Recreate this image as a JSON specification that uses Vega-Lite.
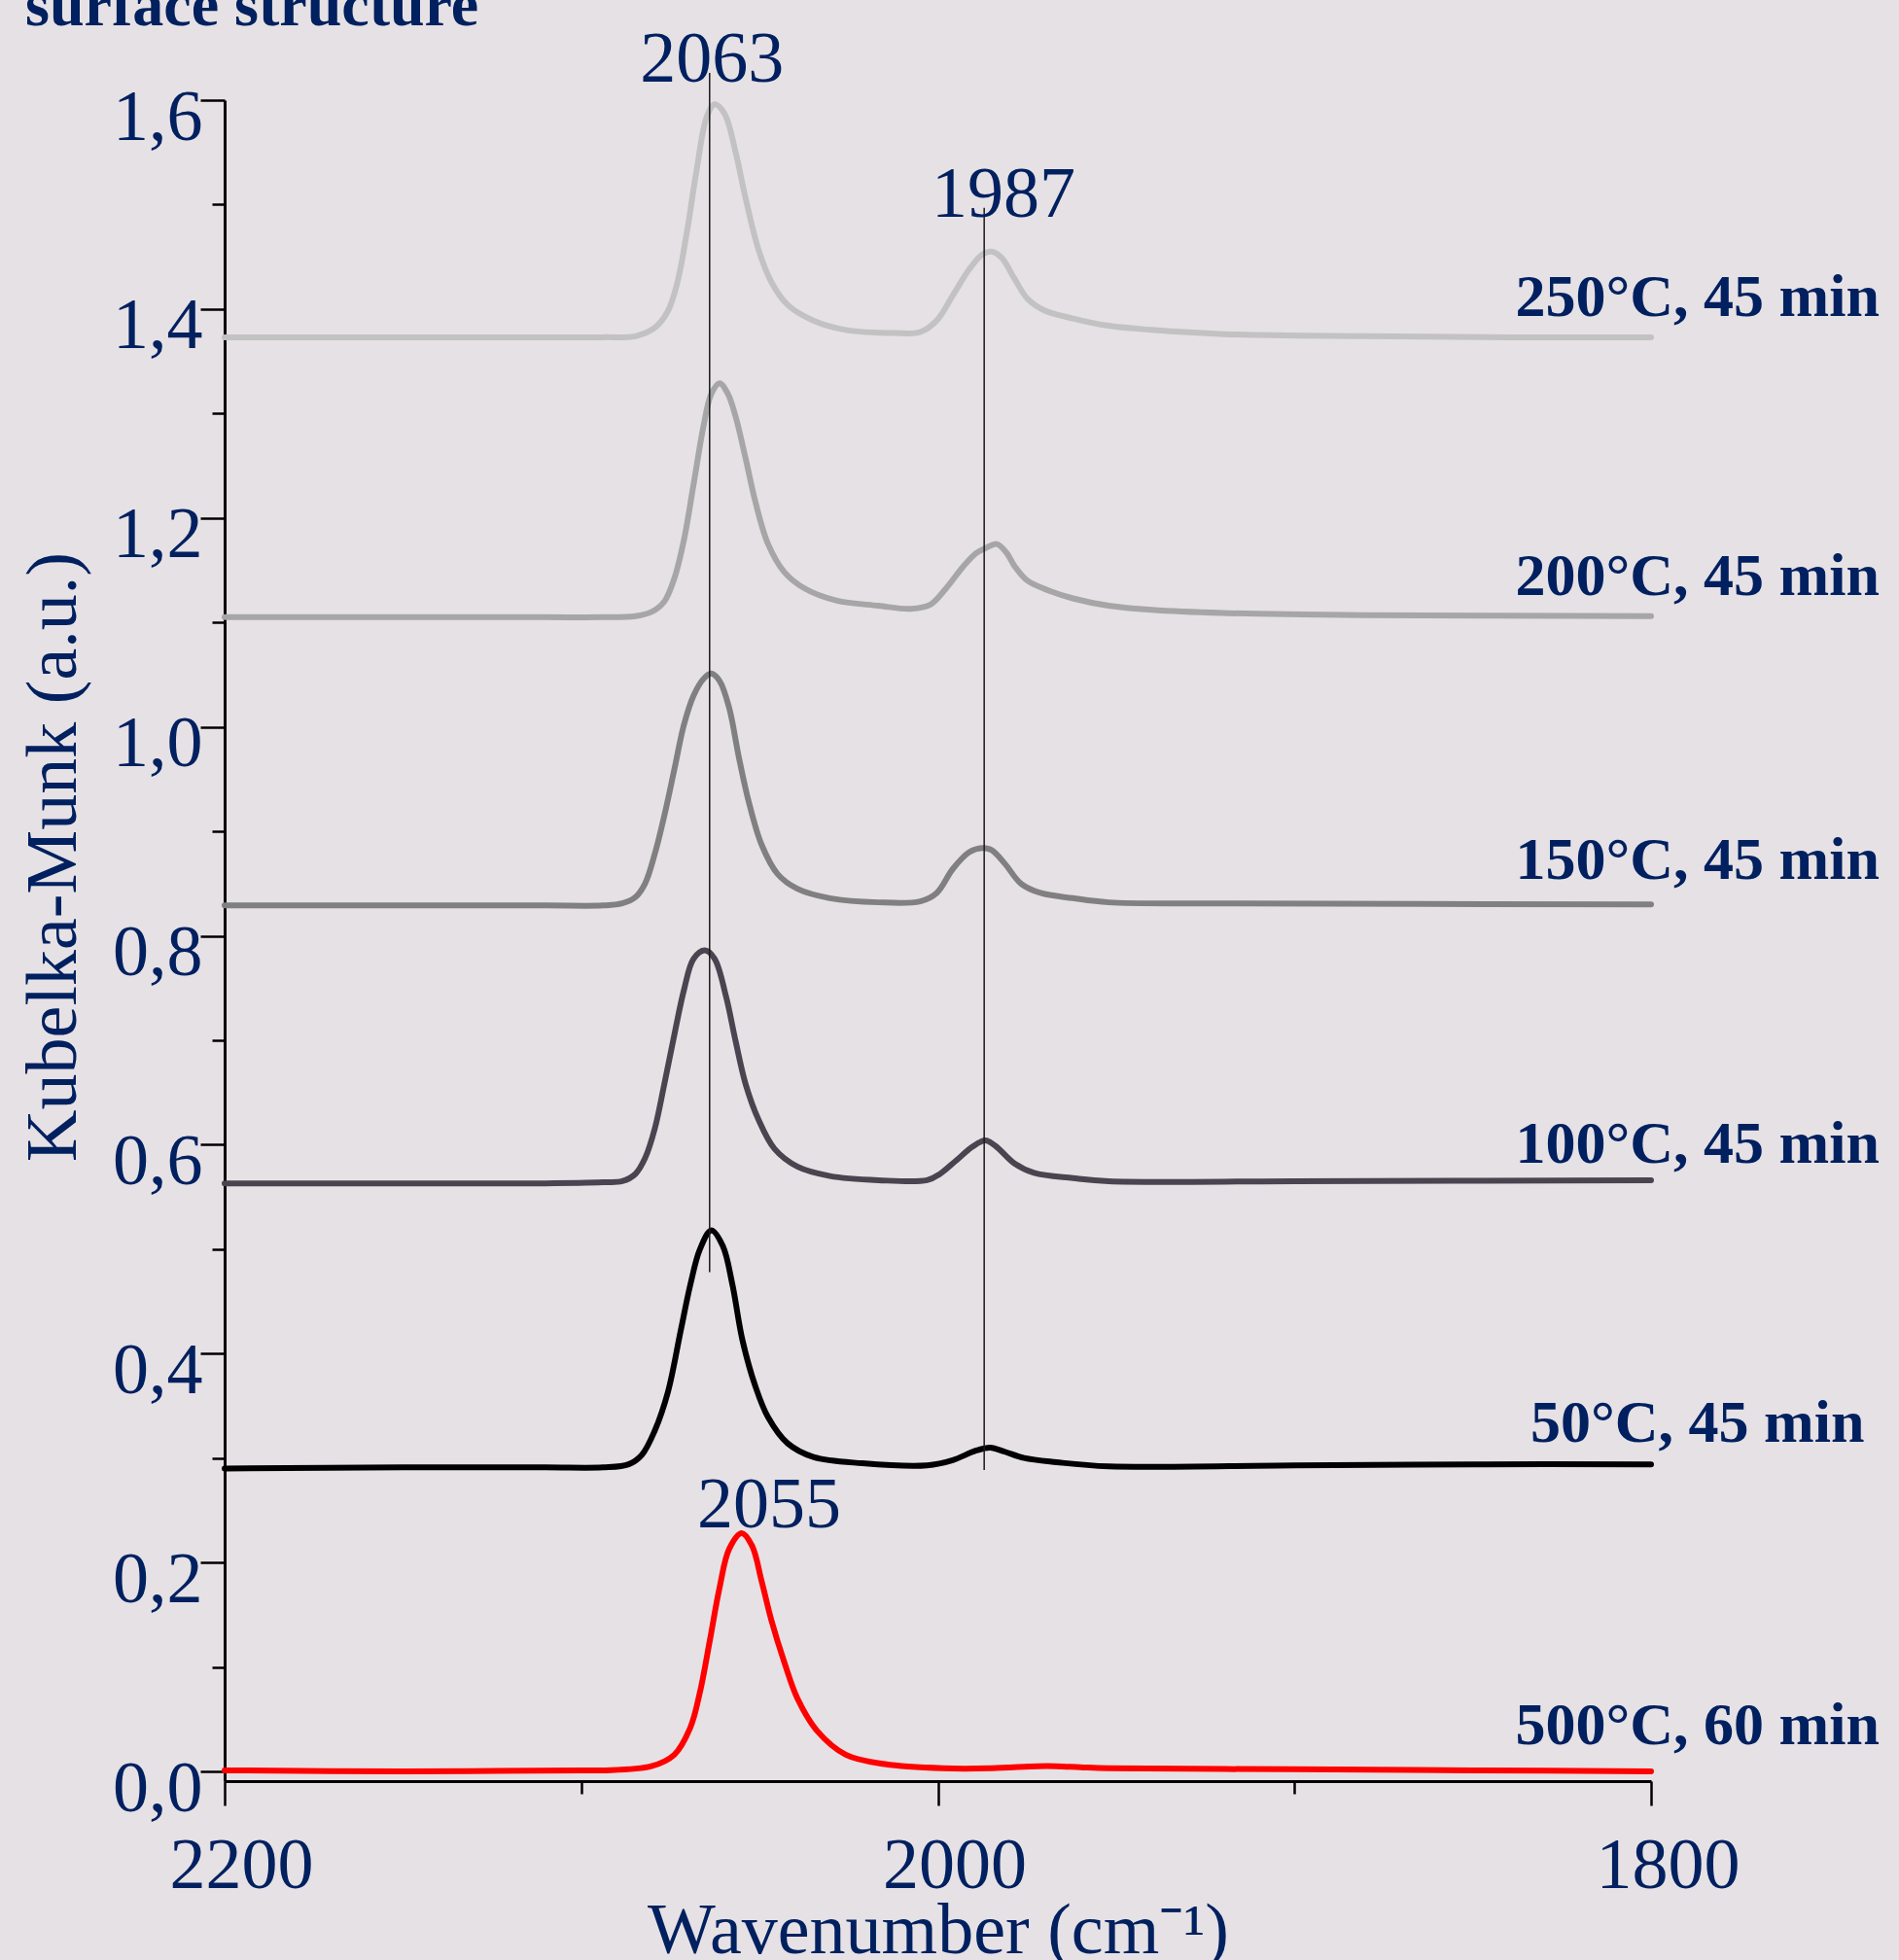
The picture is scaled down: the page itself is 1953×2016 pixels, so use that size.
{
  "$schema": "https://vega.github.io/schema/vega-lite/v6.json",
  "width": 1467,
  "height": 1729,
  "autosize": {"type": "none"},
  "padding": {"left": 231, "top": 103, "right": 255, "bottom": 184},
  "background": "#e6e1e4",
  "config": {"view": {"stroke": null}, "font": "Liberation Serif"},
  "title": {
    "text": "surface structure",
    "anchor": "start",
    "frame": "group",
    "font": "Liberation Serif",
    "fontSize": 64,
    "fontWeight": "bold",
    "color": "#002060",
    "baseline": "alphabetic",
    "dx": -205,
    "offset": 0,
    "dy": 65
  },
  "datasets": {
    "spectra": [
      {"s": "250°C, 45 min", "wn": 2200, "km": 1.373},
      {"s": "250°C, 45 min", "wn": 2150, "km": 1.373},
      {"s": "250°C, 45 min", "wn": 2110, "km": 1.373},
      {"s": "250°C, 45 min", "wn": 2093.9, "km": 1.373},
      {"s": "250°C, 45 min", "wn": 2084.8, "km": 1.374},
      {"s": "250°C, 45 min", "wn": 2079.4, "km": 1.382},
      {"s": "250°C, 45 min", "wn": 2075.7, "km": 1.398},
      {"s": "250°C, 45 min", "wn": 2073.0, "km": 1.426},
      {"s": "250°C, 45 min", "wn": 2070.3, "km": 1.475},
      {"s": "250°C, 45 min", "wn": 2067.6, "km": 1.534},
      {"s": "250°C, 45 min", "wn": 2064.8, "km": 1.584},
      {"s": "250°C, 45 min", "wn": 2062.6, "km": 1.596},
      {"s": "250°C, 45 min", "wn": 2059.8, "km": 1.587},
      {"s": "250°C, 45 min", "wn": 2056.7, "km": 1.550},
      {"s": "250°C, 45 min", "wn": 2053.9, "km": 1.506},
      {"s": "250°C, 45 min", "wn": 2050.3, "km": 1.457},
      {"s": "250°C, 45 min", "wn": 2046.7, "km": 1.426},
      {"s": "250°C, 45 min", "wn": 2042.1, "km": 1.404},
      {"s": "250°C, 45 min", "wn": 2034.9, "km": 1.389},
      {"s": "250°C, 45 min", "wn": 2025.8, "km": 1.380},
      {"s": "250°C, 45 min", "wn": 2012.1, "km": 1.377},
      {"s": "250°C, 45 min", "wn": 2004.9, "km": 1.378},
      {"s": "250°C, 45 min", "wn": 2000.3, "km": 1.389},
      {"s": "250°C, 45 min", "wn": 1995.8, "km": 1.413},
      {"s": "250°C, 45 min", "wn": 1991.2, "km": 1.438},
      {"s": "250°C, 45 min", "wn": 1987.6, "km": 1.452},
      {"s": "250°C, 45 min", "wn": 1984.9, "km": 1.455},
      {"s": "250°C, 45 min", "wn": 1982.1, "km": 1.449},
      {"s": "250°C, 45 min", "wn": 1978.5, "km": 1.429},
      {"s": "250°C, 45 min", "wn": 1974.9, "km": 1.410},
      {"s": "250°C, 45 min", "wn": 1970.3, "km": 1.399},
      {"s": "250°C, 45 min", "wn": 1962.1, "km": 1.391},
      {"s": "250°C, 45 min", "wn": 1952.1, "km": 1.384},
      {"s": "250°C, 45 min", "wn": 1940, "km": 1.380},
      {"s": "250°C, 45 min", "wn": 1920, "km": 1.376},
      {"s": "250°C, 45 min", "wn": 1880, "km": 1.374},
      {"s": "250°C, 45 min", "wn": 1840, "km": 1.373},
      {"s": "250°C, 45 min", "wn": 1800, "km": 1.373},

      {"s": "200°C, 45 min", "wn": 2200, "km": 1.105},
      {"s": "200°C, 45 min", "wn": 2150, "km": 1.105},
      {"s": "200°C, 45 min", "wn": 2110, "km": 1.105},
      {"s": "200°C, 45 min", "wn": 2093.9, "km": 1.105},
      {"s": "200°C, 45 min", "wn": 2084.8, "km": 1.106},
      {"s": "200°C, 45 min", "wn": 2080.3, "km": 1.110},
      {"s": "200°C, 45 min", "wn": 2076.7, "km": 1.120},
      {"s": "200°C, 45 min", "wn": 2073.9, "km": 1.142},
      {"s": "200°C, 45 min", "wn": 2071.2, "km": 1.179},
      {"s": "200°C, 45 min", "wn": 2068.5, "km": 1.232},
      {"s": "200°C, 45 min", "wn": 2065.7, "km": 1.288},
      {"s": "200°C, 45 min", "wn": 2063.5, "km": 1.319},
      {"s": "200°C, 45 min", "wn": 2061.2, "km": 1.329},
      {"s": "200°C, 45 min", "wn": 2058.9, "km": 1.319},
      {"s": "200°C, 45 min", "wn": 2056.7, "km": 1.297},
      {"s": "200°C, 45 min", "wn": 2053.9, "km": 1.257},
      {"s": "200°C, 45 min", "wn": 2051.2, "km": 1.216},
      {"s": "200°C, 45 min", "wn": 2047.6, "km": 1.175},
      {"s": "200°C, 45 min", "wn": 2043.0, "km": 1.148},
      {"s": "200°C, 45 min", "wn": 2037.6, "km": 1.133},
      {"s": "200°C, 45 min", "wn": 2028.5, "km": 1.121},
      {"s": "200°C, 45 min", "wn": 2016.7, "km": 1.116},
      {"s": "200°C, 45 min", "wn": 2007.6, "km": 1.113},
      {"s": "200°C, 45 min", "wn": 2002.1, "km": 1.117},
      {"s": "200°C, 45 min", "wn": 1997.6, "km": 1.133},
      {"s": "200°C, 45 min", "wn": 1993.0, "km": 1.153},
      {"s": "200°C, 45 min", "wn": 1989.4, "km": 1.166},
      {"s": "200°C, 45 min", "wn": 1986.7, "km": 1.171},
      {"s": "200°C, 45 min", "wn": 1983.5, "km": 1.175},
      {"s": "200°C, 45 min", "wn": 1980.8, "km": 1.167},
      {"s": "200°C, 45 min", "wn": 1978.5, "km": 1.154},
      {"s": "200°C, 45 min", "wn": 1974.9, "km": 1.140},
      {"s": "200°C, 45 min", "wn": 1968.5, "km": 1.130},
      {"s": "200°C, 45 min", "wn": 1962.1, "km": 1.123},
      {"s": "200°C, 45 min", "wn": 1952.1, "km": 1.116},
      {"s": "200°C, 45 min", "wn": 1940, "km": 1.112},
      {"s": "200°C, 45 min", "wn": 1920, "km": 1.109},
      {"s": "200°C, 45 min", "wn": 1880, "km": 1.107},
      {"s": "200°C, 45 min", "wn": 1800, "km": 1.106},

      {"s": "150°C, 45 min", "wn": 2200, "km": 0.829},
      {"s": "150°C, 45 min", "wn": 2150, "km": 0.829},
      {"s": "150°C, 45 min", "wn": 2110, "km": 0.829},
      {"s": "150°C, 45 min", "wn": 2093.9, "km": 0.829},
      {"s": "150°C, 45 min", "wn": 2088.5, "km": 0.831},
      {"s": "150°C, 45 min", "wn": 2084.8, "km": 0.837},
      {"s": "150°C, 45 min", "wn": 2082.1, "km": 0.850},
      {"s": "150°C, 45 min", "wn": 2079.4, "km": 0.878},
      {"s": "150°C, 45 min", "wn": 2076.7, "km": 0.915},
      {"s": "150°C, 45 min", "wn": 2073.9, "km": 0.959},
      {"s": "150°C, 45 min", "wn": 2071.2, "km": 1.002},
      {"s": "150°C, 45 min", "wn": 2068.5, "km": 1.030},
      {"s": "150°C, 45 min", "wn": 2065.7, "km": 1.046},
      {"s": "150°C, 45 min", "wn": 2063.5, "km": 1.051},
      {"s": "150°C, 45 min", "wn": 2061.2, "km": 1.044},
      {"s": "150°C, 45 min", "wn": 2058.5, "km": 1.018},
      {"s": "150°C, 45 min", "wn": 2055.8, "km": 0.971},
      {"s": "150°C, 45 min", "wn": 2053.0, "km": 0.928},
      {"s": "150°C, 45 min", "wn": 2049.4, "km": 0.887},
      {"s": "150°C, 45 min", "wn": 2044.9, "km": 0.859},
      {"s": "150°C, 45 min", "wn": 2039.4, "km": 0.845},
      {"s": "150°C, 45 min", "wn": 2030.3, "km": 0.836},
      {"s": "150°C, 45 min", "wn": 2016.7, "km": 0.832},
      {"s": "150°C, 45 min", "wn": 2004.9, "km": 0.833},
      {"s": "150°C, 45 min", "wn": 2000.3, "km": 0.841},
      {"s": "150°C, 45 min", "wn": 1995.8, "km": 0.864},
      {"s": "150°C, 45 min", "wn": 1991.2, "km": 0.880},
      {"s": "150°C, 45 min", "wn": 1987.6, "km": 0.884},
      {"s": "150°C, 45 min", "wn": 1984.9, "km": 0.882},
      {"s": "150°C, 45 min", "wn": 1981.2, "km": 0.869},
      {"s": "150°C, 45 min", "wn": 1976.7, "km": 0.850},
      {"s": "150°C, 45 min", "wn": 1971.2, "km": 0.841},
      {"s": "150°C, 45 min", "wn": 1962.1, "km": 0.836},
      {"s": "150°C, 45 min", "wn": 1952.1, "km": 0.832},
      {"s": "150°C, 45 min", "wn": 1920, "km": 0.831},
      {"s": "150°C, 45 min", "wn": 1800, "km": 0.830},

      {"s": "100°C, 45 min", "wn": 2200, "km": 0.563},
      {"s": "100°C, 45 min", "wn": 2150, "km": 0.563},
      {"s": "100°C, 45 min", "wn": 2110, "km": 0.563},
      {"s": "100°C, 45 min", "wn": 2093.9, "km": 0.564},
      {"s": "100°C, 45 min", "wn": 2088.5, "km": 0.565},
      {"s": "100°C, 45 min", "wn": 2084.8, "km": 0.572},
      {"s": "100°C, 45 min", "wn": 2082.1, "km": 0.587},
      {"s": "100°C, 45 min", "wn": 2079.4, "km": 0.615},
      {"s": "100°C, 45 min", "wn": 2076.7, "km": 0.658},
      {"s": "100°C, 45 min", "wn": 2073.9, "km": 0.705},
      {"s": "100°C, 45 min", "wn": 2071.2, "km": 0.748},
      {"s": "100°C, 45 min", "wn": 2068.5, "km": 0.778},
      {"s": "100°C, 45 min", "wn": 2065.3, "km": 0.786},
      {"s": "100°C, 45 min", "wn": 2062.6, "km": 0.778},
      {"s": "100°C, 45 min", "wn": 2059.4, "km": 0.742},
      {"s": "100°C, 45 min", "wn": 2056.7, "km": 0.699},
      {"s": "100°C, 45 min", "wn": 2053.9, "km": 0.658},
      {"s": "100°C, 45 min", "wn": 2050.3, "km": 0.624},
      {"s": "100°C, 45 min", "wn": 2045.8, "km": 0.596},
      {"s": "100°C, 45 min", "wn": 2039.4, "km": 0.579},
      {"s": "100°C, 45 min", "wn": 2030.3, "km": 0.570},
      {"s": "100°C, 45 min", "wn": 2016.7, "km": 0.566},
      {"s": "100°C, 45 min", "wn": 2003.0, "km": 0.566},
      {"s": "100°C, 45 min", "wn": 1999.4, "km": 0.572},
      {"s": "100°C, 45 min", "wn": 1994.8, "km": 0.585},
      {"s": "100°C, 45 min", "wn": 1990.3, "km": 0.598},
      {"s": "100°C, 45 min", "wn": 1986.7, "km": 0.604},
      {"s": "100°C, 45 min", "wn": 1983.9, "km": 0.599},
      {"s": "100°C, 45 min", "wn": 1978.5, "km": 0.582},
      {"s": "100°C, 45 min", "wn": 1973.0, "km": 0.573},
      {"s": "100°C, 45 min", "wn": 1962.1, "km": 0.568},
      {"s": "100°C, 45 min", "wn": 1952.1, "km": 0.565},
      {"s": "100°C, 45 min", "wn": 1900, "km": 0.565},
      {"s": "100°C, 45 min", "wn": 1800, "km": 0.566},

      {"s": "50°C, 45 min", "wn": 2200, "km": 0.290},
      {"s": "50°C, 45 min", "wn": 2150, "km": 0.291},
      {"s": "50°C, 45 min", "wn": 2110, "km": 0.291},
      {"s": "50°C, 45 min", "wn": 2093.9, "km": 0.291},
      {"s": "50°C, 45 min", "wn": 2086.7, "km": 0.294},
      {"s": "50°C, 45 min", "wn": 2083.0, "km": 0.303},
      {"s": "50°C, 45 min", "wn": 2079.4, "km": 0.326},
      {"s": "50°C, 45 min", "wn": 2075.7, "km": 0.363},
      {"s": "50°C, 45 min", "wn": 2072.1, "km": 0.422},
      {"s": "50°C, 45 min", "wn": 2069.4, "km": 0.466},
      {"s": "50°C, 45 min", "wn": 2066.7, "km": 0.500},
      {"s": "50°C, 45 min", "wn": 2063.5, "km": 0.518},
      {"s": "50°C, 45 min", "wn": 2060.3, "km": 0.503},
      {"s": "50°C, 45 min", "wn": 2057.6, "km": 0.466},
      {"s": "50°C, 45 min", "wn": 2054.8, "km": 0.413},
      {"s": "50°C, 45 min", "wn": 2051.2, "km": 0.369},
      {"s": "50°C, 45 min", "wn": 2047.6, "km": 0.339},
      {"s": "50°C, 45 min", "wn": 2042.1, "km": 0.314},
      {"s": "50°C, 45 min", "wn": 2034.9, "km": 0.301},
      {"s": "50°C, 45 min", "wn": 2021.2, "km": 0.295},
      {"s": "50°C, 45 min", "wn": 2003.0, "km": 0.293},
      {"s": "50°C, 45 min", "wn": 1995.8, "km": 0.298},
      {"s": "50°C, 45 min", "wn": 1989.4, "km": 0.307},
      {"s": "50°C, 45 min", "wn": 1985.3, "km": 0.310},
      {"s": "50°C, 45 min", "wn": 1981.2, "km": 0.306},
      {"s": "50°C, 45 min", "wn": 1975.8, "km": 0.300},
      {"s": "50°C, 45 min", "wn": 1966.7, "km": 0.296},
      {"s": "50°C, 45 min", "wn": 1952.1, "km": 0.292},
      {"s": "50°C, 45 min", "wn": 1900, "km": 0.293},
      {"s": "50°C, 45 min", "wn": 1850, "km": 0.294},
      {"s": "50°C, 45 min", "wn": 1800, "km": 0.294},

      {"s": "500°C, 60 min", "wn": 2200, "km": 0.001},
      {"s": "500°C, 60 min", "wn": 2150, "km": 0.000},
      {"s": "500°C, 60 min", "wn": 2100, "km": 0.001},
      {"s": "500°C, 60 min", "wn": 2093.9, "km": 0.001},
      {"s": "500°C, 60 min", "wn": 2080.3, "km": 0.005},
      {"s": "500°C, 60 min", "wn": 2073.9, "km": 0.016},
      {"s": "500°C, 60 min", "wn": 2069.4, "km": 0.042},
      {"s": "500°C, 60 min", "wn": 2066.7, "km": 0.076},
      {"s": "500°C, 60 min", "wn": 2063.9, "km": 0.126},
      {"s": "500°C, 60 min", "wn": 2061.2, "km": 0.176},
      {"s": "500°C, 60 min", "wn": 2058.5, "km": 0.213},
      {"s": "500°C, 60 min", "wn": 2055.0, "km": 0.228},
      {"s": "500°C, 60 min", "wn": 2052.1, "km": 0.216},
      {"s": "500°C, 60 min", "wn": 2049.4, "km": 0.182},
      {"s": "500°C, 60 min", "wn": 2046.7, "km": 0.145},
      {"s": "500°C, 60 min", "wn": 2043.0, "km": 0.104},
      {"s": "500°C, 60 min", "wn": 2039.4, "km": 0.070},
      {"s": "500°C, 60 min", "wn": 2033.9, "km": 0.039},
      {"s": "500°C, 60 min", "wn": 2025.8, "km": 0.016},
      {"s": "500°C, 60 min", "wn": 2014.8, "km": 0.007},
      {"s": "500°C, 60 min", "wn": 1998.5, "km": 0.003},
      {"s": "500°C, 60 min", "wn": 1984.9, "km": 0.003},
      {"s": "500°C, 60 min", "wn": 1972, "km": 0.005},
      {"s": "500°C, 60 min", "wn": 1966.7, "km": 0.005},
      {"s": "500°C, 60 min", "wn": 1960, "km": 0.004},
      {"s": "500°C, 60 min", "wn": 1952.1, "km": 0.003},
      {"s": "500°C, 60 min", "wn": 1900, "km": 0.002},
      {"s": "500°C, 60 min", "wn": 1850, "km": 0.001},
      {"s": "500°C, 60 min", "wn": 1800, "km": 0.000}
    ],
    "refs": [
      {"wn": 2064, "km": 0.478, "km2": 1.626},
      {"wn": 1987, "km": 0.2885, "km2": 1.497}
    ],
    "peaks": [
      {"t": "2063", "wn": 2063.3, "km": 1.618},
      {"t": "1987", "wn": 1981.6, "km": 1.488},
      {"t": "2055", "wn": 2047.3, "km": 0.2336}
    ],
    "labels": [
      {"t": "250°C, 45 min", "wn": 1787, "km": 1.393},
      {"t": "200°C, 45 min", "wn": 1787, "km": 1.126},
      {"t": "150°C, 45 min", "wn": 1787, "km": 0.854},
      {"t": "100°C, 45 min", "wn": 1787, "km": 0.583},
      {"t": "50°C, 45 min", "wn": 1787, "km": 0.316},
      {"t": "500°C, 60 min", "wn": 1787, "km": 0.026}
    ]
  },
  "layer": [
    {
      "data": {"name": "spectra"},
      "mark": {"type": "line", "interpolate": "catmull-rom", "strokeWidth": 6, "strokeCap": "round", "strokeJoin": "round"},
      "encoding": {
        "x": {
          "field": "wn",
          "type": "quantitative",
          "scale": {"domain": [1800, 2200], "reverse": true, "nice": false, "zero": false},
          "axis": {
            "title": "Wavenumber (cm⁻¹)",
            "values": [1800, 1900, 2000, 2100, 2200],
            "labelExpr": "datum.value % 200 == 0 ? format(datum.value, 'd') : ''",
            "tickSize": {"condition": {"test": "datum.value % 200 == 0", "value": 25}, "value": 13},
            "tickWidth": 2.5,
            "tickColor": "#000000",
            "domainColor": "#000000",
            "domainWidth": 3,
            "grid": false,
            "labelFont": "Liberation Serif",
            "labelFontSize": 74,
            "labelColor": "#002060",
            "labelPadding": 84,
            "labelBaseline": "alphabetic",
            "labelAlign": "center",
            "labelOffset": 17,
            "labelFlush": false,
            "labelOverlap": false,
            "labelBound": false,
            "titleFont": "Liberation Serif",
            "titleFontSize": 74,
            "titleFontWeight": "normal",
            "titleColor": "#002060",
            "titleBaseline": "alphabetic",
            "titleY": 176
          }
        },
        "y": {
          "field": "km",
          "type": "quantitative",
          "scale": {"domain": [-0.0093, 1.6], "nice": false, "zero": false},
          "axis": {
            "title": "Kubelka-Munk (a.u.)",
            "values": [0, 0.1, 0.2, 0.3, 0.4, 0.5, 0.6, 0.7, 0.8, 0.9, 1, 1.1, 1.2, 1.3, 1.4, 1.5, 1.6],
            "labelExpr": "round(datum.value * 10) % 2 == 0 ? replace(format(datum.value, '.1f'), '.', ',') : ''",
            "tickSize": {"condition": {"test": "round(datum.value * 10) % 2 == 0", "value": 25}, "value": 13},
            "tickWidth": 2.5,
            "tickColor": "#000000",
            "domainColor": "#000000",
            "domainWidth": 3,
            "grid": false,
            "labelFont": "Liberation Serif",
            "labelFontSize": 74,
            "labelColor": "#002060",
            "labelPadding": -2,
            "labelAlign": "right",
            "labelBaseline": "alphabetic",
            "labelOffset": 40,
            "labelFlush": false,
            "labelOverlap": false,
            "labelBound": false,
            "titleFont": "Liberation Serif",
            "titleFontSize": 74,
            "titleFontWeight": "normal",
            "titleColor": "#002060",
            "titleAngle": 270,
            "titleAlign": "center",
            "titleBaseline": "alphabetic",
            "titleX": -154,
            "titleY": 778
          }
        },
        "color": {
          "field": "s",
          "type": "nominal",
          "scale": {
            "domain": ["250°C, 45 min", "200°C, 45 min", "150°C, 45 min", "100°C, 45 min", "50°C, 45 min", "500°C, 60 min"],
            "range": ["#c2c2c2", "#a6a6a6", "#808080", "#4a4450", "#000000", "#ff0000"]
          },
          "legend": null
        }
      }
    },
    {
      "data": {"name": "refs"},
      "mark": {"type": "rule", "color": "#1a1a1a", "strokeWidth": 1.5},
      "encoding": {
        "x": {"field": "wn", "type": "quantitative"},
        "y": {"field": "km", "type": "quantitative"},
        "y2": {"field": "km2"}
      }
    },
    {
      "data": {"name": "peaks"},
      "mark": {"type": "text", "font": "Liberation Serif", "fontSize": 74, "color": "#002060", "align": "center", "baseline": "alphabetic"},
      "encoding": {
        "x": {"field": "wn", "type": "quantitative"},
        "y": {"field": "km", "type": "quantitative"},
        "text": {"field": "t"}
      }
    },
    {
      "data": {"name": "labels"},
      "mark": {"type": "text", "font": "Liberation Serif", "fontSize": 62, "fontWeight": "bold", "color": "#002060", "align": "center", "baseline": "alphabetic"},
      "encoding": {
        "x": {"field": "wn", "type": "quantitative"},
        "y": {"field": "km", "type": "quantitative"},
        "text": {"field": "t"}
      }
    }
  ]
}
